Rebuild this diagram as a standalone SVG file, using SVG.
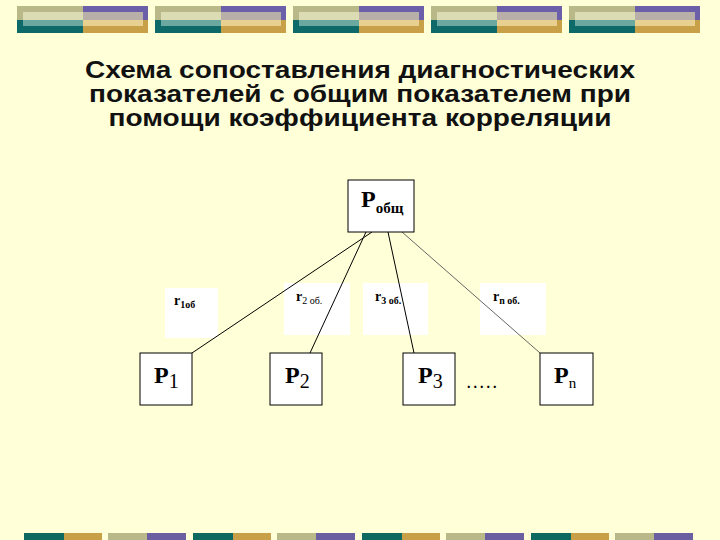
<svg xmlns="http://www.w3.org/2000/svg" width="720" height="540" viewBox="0 0 720 540">
<style>
.t{font-family:"Liberation Sans",Arial,sans-serif;font-weight:bold;font-size:24px;fill:#111;text-anchor:middle}
.p{font-family:"Liberation Serif","Times New Roman",serif;font-weight:bold;font-size:24px;fill:#000}
.s{font-family:"Liberation Serif","Times New Roman",serif;font-size:14px;font-weight:bold;fill:#000}
.b{fill:#fff;stroke:#000;stroke-width:1}
.w{fill:#fff}
</style>
<defs>
<g id="tb">
<rect x="0" y="6" width="66" height="27" fill="#b8b888"/>
<rect x="6" y="12" width="60" height="8" fill="#dcdcb4"/>
<rect x="0" y="20" width="66" height="13" fill="#0e6a68"/>
<rect x="6" y="20" width="60" height="6" fill="#6aa8a0"/>
<rect x="66" y="6" width="65" height="27" fill="#6a5fa8"/>
<rect x="66" y="12" width="60" height="8" fill="#b8b0a8"/>
<rect x="66" y="20" width="65" height="13" fill="#c8a048"/>
<rect x="66" y="20" width="60" height="6" fill="#e8d090"/>
</g>
<g id="bb">
<rect x="0" y="533" width="40" height="7" fill="#0e6a60"/>
<rect x="40" y="533" width="38" height="7" fill="#c8a048"/>
<rect x="84" y="533" width="39" height="7" fill="#b8b888"/>
<rect x="123" y="533" width="39" height="7" fill="#6a5fa0"/>
</g>
</defs>
<rect width="720" height="540" fill="#ffffd8"/>
<use href="#tb" x="17"/><use href="#tb" x="155"/><use href="#tb" x="293"/><use href="#tb" x="431"/><use href="#tb" x="569"/>
<use href="#bb" x="24"/><use href="#bb" x="193"/><use href="#bb" x="362"/><use href="#bb" x="531"/>
<text class="t" x="360" y="78" textLength="550" lengthAdjust="spacingAndGlyphs">Схема сопоставления диагностических</text>
<text class="t" x="360" y="102" textLength="542" lengthAdjust="spacingAndGlyphs">показателей с общим показателем при</text>
<text class="t" x="360" y="126" textLength="503" lengthAdjust="spacingAndGlyphs">помощи коэффициента корреляции</text>
<g id="r1"><rect class="w" x="165" y="288" width="53" height="50"/><text class="s" x="174" y="305">r<tspan font-size="10" dy="3">1об</tspan></text></g>
<g id="r2"><rect class="w" x="284" y="283" width="66" height="52"/><text class="s" x="296" y="301">r<tspan font-size="10" font-weight="normal" dy="3">2 об.</tspan></text></g>
<g id="r3"><rect class="w" x="363" y="283" width="65" height="52"/><text class="s" x="375" y="301">r<tspan font-size="10" dy="3">3 об.</tspan></text></g>
<g id="rn"><rect class="w" x="480" y="283" width="66" height="52"/><text class="s" x="493" y="301">r<tspan font-size="10" dy="3">n об.</tspan></text></g>
<g id="connectors" stroke="#000" stroke-width="1">
<line x1="372" y1="232" x2="192" y2="353"/>
<line x1="366" y1="232" x2="310" y2="353"/>
<line x1="388" y1="232" x2="414" y2="353"/>
<line x1="402" y1="232" x2="540" y2="353" stroke="#666"/>
</g>
<g id="P"><rect class="b" x="348" y="180" width="66" height="52"/><text class="p" x="361" y="207" font-size="22">P<tspan font-size="15" dy="6">общ</tspan></text></g>
<g id="P1"><rect class="b" x="140" y="353" width="52" height="52"/><text class="p" x="154" y="383">P<tspan font-size="20" font-weight="normal" dy="5">1</tspan></text></g>
<g id="P2"><rect class="b" x="270" y="353" width="52" height="52"/><text class="p" x="285" y="383">P<tspan font-size="20" font-weight="normal" dy="5">2</tspan></text></g>
<g id="P3"><rect class="b" x="403" y="353" width="52" height="52"/><text class="p" x="418" y="383">P<tspan font-size="20" font-weight="normal" dy="5">3</tspan></text></g>
<g id="dots"><text class="s" x="467" y="388" font-size="16" font-weight="normal" letter-spacing="3">.....</text></g>
<g id="Pn"><rect class="b" x="540" y="353" width="53" height="52"/><text class="p" x="554" y="383">P<tspan font-size="15" font-weight="normal" dy="5">n</tspan></text></g>
</svg>
